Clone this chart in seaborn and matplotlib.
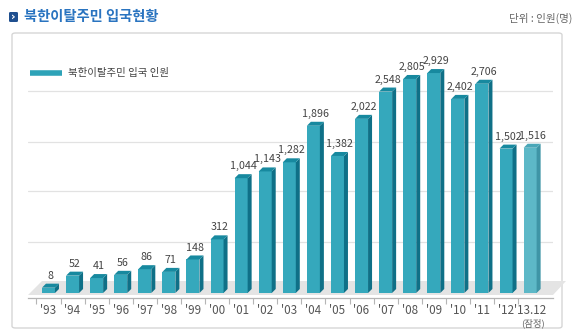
import numpy as np
import pandas as pd
import matplotlib
matplotlib.use("Agg")
import matplotlib.pyplot as plt
import seaborn as sns
from matplotlib.patches import Polygon, FancyBboxPatch, Rectangle
from matplotlib.lines import Line2D

# ---- data ----
years = ["'93", "'94", "'95", "'96", "'97", "'98", "'99", "'00", "'01", "'02", "'03",
         "'04", "'05", "'06", "'07", "'08", "'09", "'10", "'11", "'12", "'13.12"]
arrivals = [8, 52, 41, 56, 86, 71, 148, 312, 1044, 1143, 1282,
            1896, 1382, 2022, 2548, 2805, 2929, 2402, 2706, 1502, 1516]
title_text = "북한이탈주민 입국현황"
unit_text = "단위 : 인원(명)"
legend_text = "북한이탈주민 입국 인원"
prelim_text = "(잠정)"

sns.set_theme(style="white")
plt.rcParams['font.family'] = ['Noto Sans CJK KR', 'DejaVu Sans']
NUM_FONT = ['Liberation Sans Narrow', 'Noto Sans CJK KR', 'DejaVu Sans']

W, H = 580, 335
fig = plt.figure(figsize=(W / 100, H / 100), dpi=100)
fig.patch.set_facecolor('white')

def fx(px):
    return px / W

def fy(py):
    return 1 - py / H

# outer frame
frame = FancyBboxPatch((fx(12), fy(328)), fx(562) - fx(12), fy(33) - fy(328),
                       boxstyle="round,pad=0,rounding_size=0.006",
                       transform=fig.transFigure, facecolor='white',
                       edgecolor='#d6d6d6', linewidth=1.0, zorder=0)
fig.patches.append(frame)

# floor (3D base)
floor = Polygon([(fx(28), fy(295)), (fx(42), fy(281)), (fx(566), fy(281)), (fx(553), fy(295))],
                closed=True, transform=fig.transFigure, facecolor='#e4e4e4',
                edgecolor='none', zorder=1)
fig.patches.append(floor)

ax = fig.add_axes([fx(28), fy(293), fx(553) - fx(28), fy(33) - fy(293)])
ax.set_facecolor('none')
ax.set_zorder(2)

P = 0.63
fwd = lambda v: np.sign(v) * np.abs(v) ** P
inv = lambda v: np.sign(v) * np.abs(v) ** (1 / P)

df = pd.DataFrame({"year": years, "n": arrivals})
front_cols = ['#35a8bc'] * (len(years) - 1) + ['#5db8c7']
sns.barplot(data=df, x="year", y="n", hue="year", palette=front_cols, order=years,
            width=0.54, saturation=1, legend=False, ax=ax, edgecolor='none', zorder=3)

ax.set_yscale('function', functions=(fwd, inv))
ymax = 3820
ax.set_ylim(0, ymax)
ax.set_xlim(-0.85, 20.95)

# decorative gridlines at evenly spaced positions
tops = fwd(ymax)
ax.set_yticks([inv(tops * f) for f in (0.196, 0.392, 0.581, 0.777)])
ax.yaxis.grid(True, color='#e2e2e2', linewidth=0.9)
ax.set_axisbelow(True)
ax.tick_params(axis='y', length=0, labelleft=False)

for s in ['top', 'right', 'left']:
    ax.spines[s].set_visible(False)
ax.spines['bottom'].set_position(('outward', 3.6))
ax.spines['bottom'].set_color('#b5b5b5')
ax.spines['bottom'].set_linewidth(0.9)

ax.set_xticks(np.arange(len(years)) - 0.5, minor=True)
ax.tick_params(axis='x', which='minor', length=4, width=0.8, color='#b5b5b5', direction='out', bottom=True)
ax.tick_params(axis='x', which='major', length=0, pad=4.0, labelsize=8.4, labelcolor='#555555')
for lab in ax.get_xticklabels():
    lab.set_family(NUM_FONT)
ax.set_xlabel('')
ax.set_ylabel('')

ax.annotate(prelim_text, xy=(len(years) - 1, 0), xytext=(2, -21.5), textcoords='offset points',
            ha='center', va='center', fontsize=6.8, color='#666666', annotation_clip=False)

# 3D caps & sides derived from the bar patches
fig.canvas.draw()
invt = ax.transData.inverted()
dx, dy = 4, 4
bars = [p for p in ax.patches if isinstance(p, Rectangle)]
for i, p in enumerate(bars):
    x0, w, h = p.get_x(), p.get_width(), p.get_height()
    X0, Yb = ax.transData.transform((x0, 0))
    X1, Yt = ax.transData.transform((x0 + w, h))
    last = (i == len(bars) - 1)
    side_c = '#3f95a6' if last else '#0f7087'
    top_c = '#4aa7b8' if last else '#17899f'
    side = invt.transform([(X1, Yb), (X1 + dx, Yb + dy), (X1 + dx, Yt + dy), (X1, Yt)])
    top = invt.transform([(X0, Yt), (X1, Yt), (X1 + dx, Yt + dy), (X0 + dx, Yt + dy)])
    ax.add_patch(Polygon(side, closed=True, facecolor=side_c, edgecolor='none', zorder=3))
    ax.add_patch(Polygon(top, closed=True, facecolor=top_c, edgecolor='none', zorder=3))

# value labels
for i, v in enumerate(arrivals):
    ax.annotate(f"{v:,}", xy=(i, v), xytext=(1.5, 5.0), textcoords='offset points',
                ha='center', va='bottom', fontsize=7.7, color='#444444',
                family=NUM_FONT, annotation_clip=False)

# legend
fig.add_artist(Line2D([fx(30), fx(62)], [fy(73), fy(73)], transform=fig.transFigure,
                      color='#2ea3b8', linewidth=4, solid_capstyle='butt'))
fig.text(fx(68), fy(73), legend_text, fontsize=7.5, color='#444444', va='center', ha='left')

# title with icon
icon = FancyBboxPatch((fx(9), fy(22)), fx(9), fy(12) - fy(22),
                      boxstyle="round,pad=0,rounding_size=0.003", transform=fig.transFigure,
                      facecolor='#1f4f8f', edgecolor='none')
fig.patches.append(icon)
fig.text(fx(13.5), fy(17), '›', fontsize=8, color='white', ha='center', va='center',
         fontweight='bold', family=['DejaVu Sans'])
fig.text(fx(24), fy(17), title_text, fontsize=10.3, color='#2a74c0', fontweight='bold',
         ha='left', va='center')
fig.text(fx(572), fy(18), unit_text, fontsize=7.6, color='#666666', ha='right', va='center')

fig.savefig('out.png', dpi=100)
